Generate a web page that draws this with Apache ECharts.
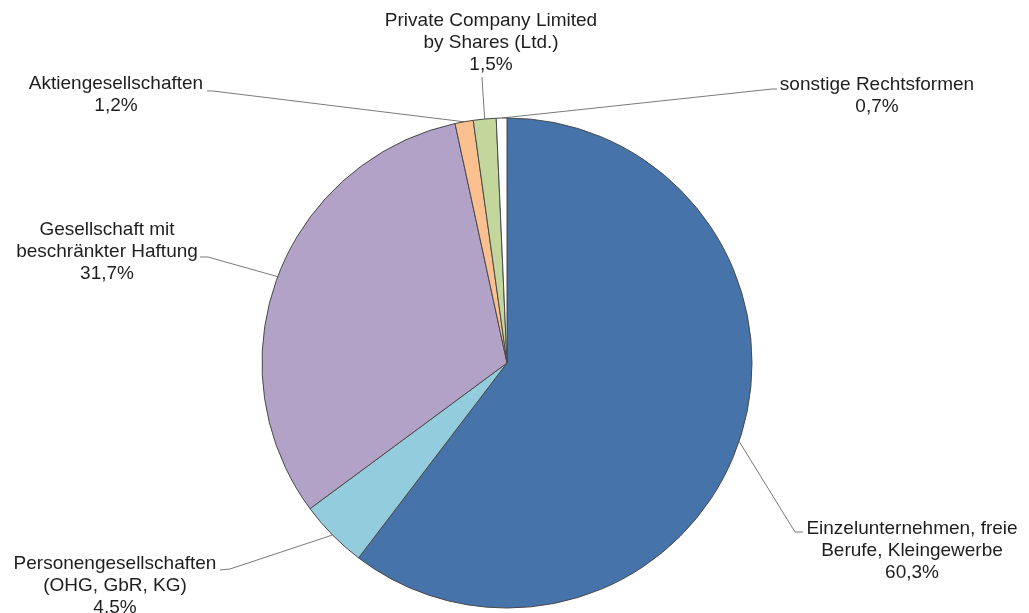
<!DOCTYPE html>
<html>
<head>
<meta charset="utf-8">
<script src="https://cdn.jsdelivr.net/npm/echarts@6/dist/echarts.min.js"></script>
<style>
  html, body { margin: 0; padding: 0; background: #ffffff; }
  #chart { width: 1029px; height: 613px; }
</style>
</head>
<body>
<div id="chart"></div>
<script>
// Data
var categories = [
  'Einzelunternehmen, freie\nBerufe, Kleingewerbe',
  'Personengesellschaften\n(OHG, GbR, KG)',
  'Gesellschaft mit\nbeschränkter Haftung',
  'Aktiengesellschaften',
  'Private Company Limited\nby Shares (Ltd.)',
  'sonstige Rechtsformen'
];
var shares = [60.3, 4.5, 31.7, 1.2, 1.5, 0.7];
var colors = ['#4673A9', '#93CDDD', '#B3A2C7', '#FAC090', '#C3D69B', '#FFFFFF'];

// Label placement (text block centre) and leader-line elbows
var labelPos = [
  { x: 912, y: 551, elbow: [[795, 532], [803, 532]] },
  { x: 115, y: 586, elbow: [[230, 569], [220, 570]] },
  { x: 107, y: 252, elbow: [[208, 257], [200, 257]] },
  { x: 116, y: 95,  elbow: [[213, 91], [207, 91]] },
  { x: 491, y: 43,  elbow: [[482, 78], [482, 77]] },
  { x: 877, y: 96,  elbow: [[772, 89], [777, 89]] }
];

var chart = echarts.init(document.getElementById('chart'), null, { renderer: 'canvas' });

var data = categories.map(function (c, i) {
  return { name: c, value: shares[i], itemStyle: { color: colors[i] } };
});

chart.setOption({
  animation: false,
  backgroundColor: '#ffffff',
  series: [{
    type: 'pie',
    center: [507, 363],
    radius: 245,
    startAngle: 90,
    clockwise: true,
    avoidLabelOverlap: false,
    data: data,
    itemStyle: { borderColor: '#4a4a4a', borderWidth: 1 },
    emphasis: { disabled: true },
    label: {
      show: true,
      position: 'outside',
      fontFamily: '"Liberation Sans", Arial, sans-serif',
      fontSize: 19,
      lineHeight: 22,
      color: '#1e1e1e',
      align: 'center',
      formatter: function (p) {
        return p.name + '\n' + String(p.value).replace('.', ',') + '%';
      }
    },
    labelLine: {
      show: true,
      length: 10,
      length2: 10,
      smooth: false,
      lineStyle: { color: '#7a7a7a', width: 1 }
    },
    labelLayout: function (params) {
      var lp = labelPos[params.dataIndex];
      var start = params.labelLinePoints ? params.labelLinePoints[0] : lp.elbow[0];
      return {
        x: lp.x,
        y: lp.y,
        align: 'center',
        verticalAlign: 'middle',
        labelLinePoints: [start, lp.elbow[0], lp.elbow[1]]
      };
    }
  }]
});
</script>
</body>
</html>
